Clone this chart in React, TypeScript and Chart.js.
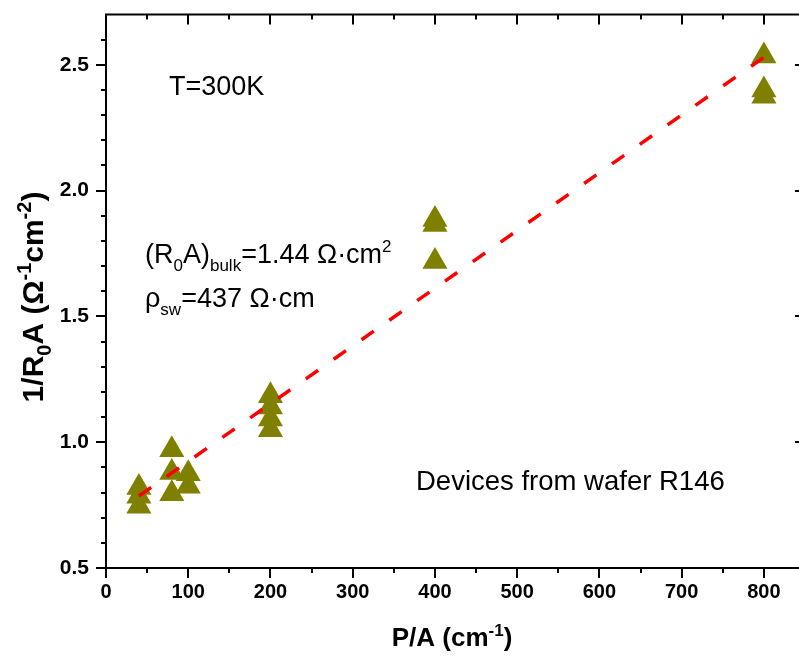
import React, { useEffect, useRef } from "react";
import { Chart, registerables } from "chart.js";

Chart.register(...registerables);

// ---- data ----
const pointX = [40, 40, 40, 80, 80, 80, 100, 100, 200, 200, 200, 200, 400, 400, 400, 800, 800, 800];
const pointY = [0.82, 0.785, 0.745, 0.97, 0.88, 0.795, 0.875, 0.825, 1.185, 1.14, 1.092, 1.05, 1.885, 1.865, 1.718, 2.535, 2.4, 2.375];
const fitX = [40, 800];
const fitY = [0.786, 2.53];

const xMajor = [0, 100, 200, 300, 400, 500, 600, 700, 800];
const xMinor = [50, 150, 250, 350, 450, 550, 650, 750, 850];
const yMajor = [0.5, 1.0, 1.5, 2.0, 2.5];
const yMinor = [0.6, 0.7, 0.8, 0.9, 1.1, 1.2, 1.3, 1.4, 1.6, 1.7, 1.8, 1.9, 2.1, 2.2, 2.3, 2.4, 2.6];

const X_MIN = 0, X_MAX = 850, Y_MIN = 0.5, Y_MAX = 2.7;

type Run = { t: string; s: "n" | "sub" | "sup" };

const FONT = '"Liberation Sans", Arial, sans-serif';

function drawRich(ctx: CanvasRenderingContext2D, runs: Run[], x: number, y: number, size: number, weight: string, align: "left" | "center", small = 0.64) {
  const fontFor = (r: Run) => `${weight} ${r.s === "n" ? size : Math.round(size * small)}px ${FONT}`;
  let w = 0;
  for (const r of runs) { ctx.font = fontFor(r); w += ctx.measureText(r.t).width; }
  let cx = align === "center" ? x - w / 2 : x;
  ctx.textAlign = "left";
  ctx.textBaseline = "alphabetic";
  for (const r of runs) {
    ctx.font = fontFor(r);
    const dy = r.s === "sub" ? size * 0.28 : r.s === "sup" ? -size * 0.4 : 0;
    ctx.fillText(r.t, cx, y + dy);
    cx += ctx.measureText(r.t).width;
  }
}

const framePlugin = {
  id: "frame",
  afterDraw(chart: any) {
    const { ctx, chartArea: a, scales } = chart;
    const xs = scales.x, ys = scales.y;
    ctx.save();
    ctx.strokeStyle = "#000";
    ctx.lineWidth = 2;
    ctx.beginPath();
    ctx.rect(a.left, a.top, a.right - a.left, a.bottom - a.top);
    ctx.stroke();
    ctx.beginPath();
    for (const v of xMajor) {
      const p = Math.round(xs.getPixelForValue(v));
      ctx.moveTo(p, a.bottom); ctx.lineTo(p, a.bottom + 10);
      ctx.moveTo(p, a.top); ctx.lineTo(p, a.top + 10);
    }
    for (const v of xMinor) {
      const p = Math.round(xs.getPixelForValue(v));
      ctx.moveTo(p, a.bottom); ctx.lineTo(p, a.bottom + 5);
      ctx.moveTo(p, a.top); ctx.lineTo(p, a.top + 5);
    }
    for (const v of yMajor) {
      const p = Math.round(ys.getPixelForValue(v));
      ctx.moveTo(a.left, p); ctx.lineTo(a.left - 10, p);
      ctx.moveTo(a.right, p); ctx.lineTo(a.right - 10, p);
    }
    for (const v of yMinor) {
      const p = Math.round(ys.getPixelForValue(v));
      ctx.moveTo(a.left, p); ctx.lineTo(a.left - 5, p);
      ctx.moveTo(a.right, p); ctx.lineTo(a.right - 5, p);
    }
    ctx.stroke();

    ctx.fillStyle = "#000";
    // axis titles
    drawRich(ctx, [
      { t: "P/A (cm", s: "n" }, { t: "-1", s: "sup" }, { t: ")", s: "n" },
    ], 452, 646, 26, "bold", "center");

    ctx.save();
    ctx.translate(43, 297);
    ctx.rotate(-Math.PI / 2);
    drawRich(ctx, [
      { t: "1/R", s: "n" }, { t: "0", s: "sub" }, { t: "A (Ω", s: "n" }, { t: "-1", s: "sup" },
      { t: "cm", s: "n" }, { t: "-2", s: "sup" }, { t: ")", s: "n" },
    ], 0, 0, 30, "bold", "center", 0.66);
    ctx.restore();

    // annotations
    drawRich(ctx, [{ t: "T=300K", s: "n" }], 169, 95, 27, "normal", "left");
    drawRich(ctx, [
      { t: "(R", s: "n" }, { t: "0", s: "sub" }, { t: "A)", s: "n" }, { t: "bulk", s: "sub" },
      { t: "=1.44 Ω·cm", s: "n" }, { t: "2", s: "sup" },
    ], 145, 263, 27, "normal", "left");
    drawRich(ctx, [
      { t: "ρ", s: "n" }, { t: "sw", s: "sub" }, { t: "=437 Ω·cm", s: "n" },
    ], 145, 307, 27, "normal", "left");
    drawRich(ctx, [{ t: "Devices from wafer R146", s: "n" }], 416, 490, 27.5, "normal", "left");
    ctx.restore();
  },
};

export default function App() {
  const ref = useRef<HTMLCanvasElement>(null);
  useEffect(() => {
    if (!ref.current) return;
    const noPad = (s: any) => { s.paddingTop = 0; s.paddingBottom = 0; s.paddingLeft = 0; s.paddingRight = 0; };
    const chart = new Chart(ref.current, {
      type: "scatter",
      data: {
        datasets: [
          {
            type: "line",
            data: fitX.map((x, i) => ({ x, y: fitY[i] })),
            borderColor: "#ff0000",
            borderWidth: 3.5,
            borderDash: [15, 19],
            borderCapStyle: "butt",
            pointRadius: 0,
            fill: false,
            order: 0,
          } as any,
          {
            type: "scatter",
            data: pointX.map((x, i) => ({ x, y: pointY[i] })),
            pointStyle: "triangle",
            pointRadius: 14.5,
            pointHoverRadius: 14.5,
            backgroundColor: "#808000",
            borderColor: "#808000",
            borderWidth: 0,
            clip: false,
            order: 1,
          } as any,
        ],
      },
      options: {
        responsive: false,
        animation: false,
        devicePixelRatio: 1,
        layout: { padding: { top: 10, right: 15, left: 0, bottom: 0 } },
        plugins: { legend: { display: false }, tooltip: { enabled: false } },
        scales: {
          x: {
            type: "linear",
            min: X_MIN,
            max: X_MAX,
            grid: { display: false, drawTicks: false },
            border: { display: false },
            ticks: {
              stepSize: 100,
              includeBounds: false,
              padding: 12,
              color: "#000",
              font: { family: FONT, size: 20, weight: "bold" },
              callback: (v: any) => (Number(v) > 800 ? "" : String(v)),
            },
            afterFit: (s: any) => { s.height = 91; noPad(s); },
          },
          y: {
            type: "linear",
            min: Y_MIN,
            max: Y_MAX,
            grid: { display: false, drawTicks: false },
            border: { display: false },
            ticks: {
              stepSize: 0.5,
              includeBounds: false,
              padding: 17,
              color: "#000",
              font: { family: FONT, size: 21, weight: "bold" },
              callback: (v: any) => Number(v).toFixed(1),
            },
            afterFit: (s: any) => { s.width = 106; noPad(s); },
          },
        },
      },
      plugins: [framePlugin],
    });
    return () => chart.destroy();
  }, []);
  return (
    <div style={{ position: "absolute", left: 0, top: 0, width: 799, height: 659, overflow: "hidden", background: "#fff" }}>
      <canvas ref={ref} width={820} height={659} style={{ display: "block", width: 820, height: 659 }} />
    </div>
  );
}
